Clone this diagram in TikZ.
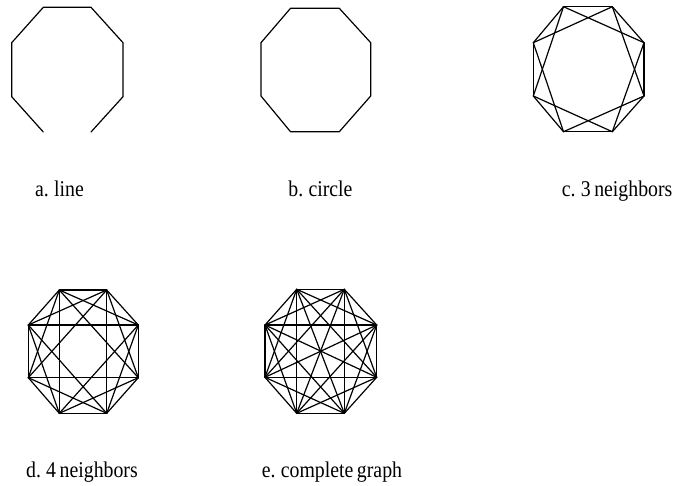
\documentclass[tikz,border=0pt]{standalone}
\usepackage{fontspec}
\setmainfont{Liberation Serif}
\newcommand\octpts[9]{%
 \coordinate (#1-0) at (#3,#6);
 \coordinate (#1-1) at (#4,#6);
 \coordinate (#1-2) at (#5,#7);
 \coordinate (#1-3) at (#5,#8);
 \coordinate (#1-4) at (#4,#9);
 \coordinate (#1-5) at (#3,#9);
 \coordinate (#1-6) at (#2,#8);
 \coordinate (#1-7) at (#2,#7);}
\newcommand\tightsp{\spaceskip=0.18em plus 0.05em\relax}
\begin{document}
\begin{tikzpicture}[x=1pt,y=-1pt,
  edge/.style={line width=1.2pt, line cap=round, line join=round},
  lbl/.style={anchor=base west, inner sep=0pt, xscale=0.88,
    font=\fontsize{22.5}{26}\selectfont}]
\useasboundingbox (0,0) rectangle (682,485);
% vertices
\octpts{a}{11.7}{43.3}{91}{123}{7.3}{42.7}{96.7}{132}
\octpts{b}{261}{290.5}{339.3}{370.7}{8.3}{42.7}{96}{131.7}
\octpts{c}{533.3}{563.5}{612.3}{644}{6.7}{42.7}{96}{131.7}
\octpts{d}{28.3}{59.3}{106.7}{138.3}{290}{325}{377.7}{413.3}
\octpts{e}{265}{296.7}{344.3}{376.7}{289.3}{325}{377.3}{413.3}
% a. line
\draw[edge] (a-4) -- (a-3) -- (a-2) -- (a-1) -- (a-0) -- (a-7) -- (a-6) -- (a-5);
% b. circle
\draw[edge] (b-0) -- (b-1) -- (b-2) -- (b-3) -- (b-4) -- (b-5) -- (b-6) -- (b-7) -- cycle;
% c. 3 neighbors
\foreach \i in {0,...,7} {
  \pgfmathtruncatemacro\j{mod(\i+1,8)}
  \pgfmathtruncatemacro\k{mod(\i+2,8)}
  \draw[edge] (c-\i) -- (c-\j);
  \draw[edge] (c-\i) -- (c-\k);
}
% d. 4 neighbors
\foreach \i in {0,...,7} {
  \pgfmathtruncatemacro\j{mod(\i+1,8)}
  \pgfmathtruncatemacro\k{mod(\i+2,8)}
  \pgfmathtruncatemacro\l{mod(\i+3,8)}
  \draw[edge] (d-\i) -- (d-\j);
  \draw[edge] (d-\i) -- (d-\k);
  \draw[edge] (d-\i) -- (d-\l);
}
% e. complete graph
\foreach \i in {0,...,6} {
  \pgfmathtruncatemacro\s{\i+1}
  \foreach \j in {\s,...,7} {
    \draw[edge] (e-\i) -- (e-\j);
  }
}
% labels
\node[lbl] (la) at (35,196) {\tightsp a. line};
\node[lbl] (lb) at (288.3,196) {\tightsp b. circle};
\node[lbl] (lc) at (561.7,196) {\tightsp c. 3 neighbors};
\node[lbl] (ld) at (26,477.7) {\tightsp d. 4 neighbors};
\node[lbl] (le) at (261.7,477.7) {\tightsp e. complete graph};
\end{tikzpicture}
\end{document}
